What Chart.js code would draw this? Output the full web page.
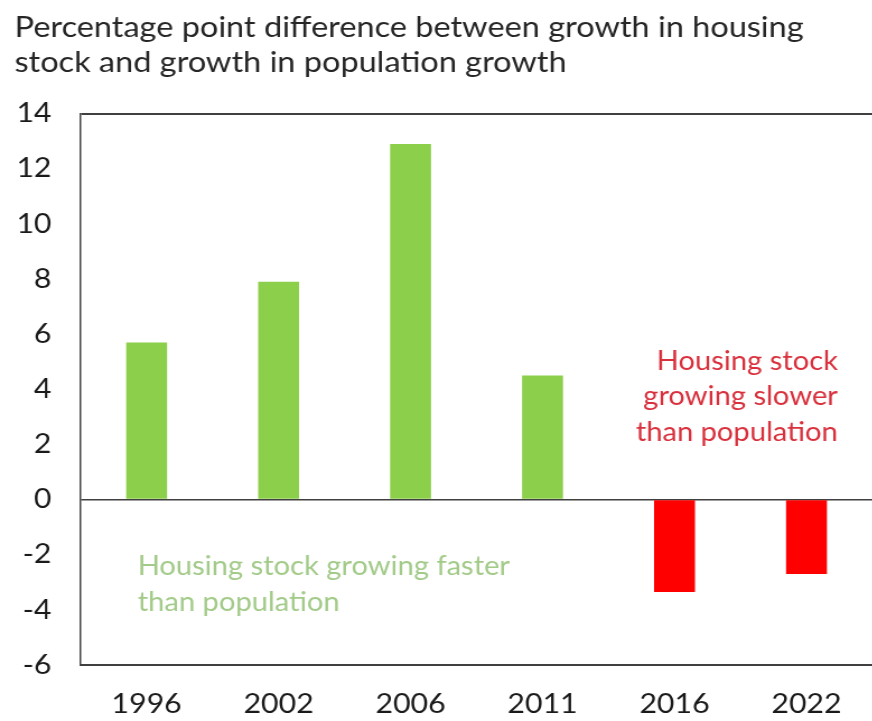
<!DOCTYPE html>
<html>
<head>
<meta charset="utf-8">
<script src="https://cdn.jsdelivr.net/npm/chart.js@4"></script>
<style>
  html, body { margin: 0; padding: 0; background: #fff; overflow: hidden; }
  /* the source picture is a little wider than tall text would give, so stretch */
  #wrap { width: 779px; height: 721px; position: relative; transform: scaleX(1.12); transform-origin: 0 0; }
</style>
</head>
<body>
<div id="wrap"><canvas id="chart"></canvas></div>
<script>
// data
const years = ["1996", "2002", "2006", "2011", "2016", "2022"];
const diffValues = [5.7, 7.9, 12.9, 4.5, -3.35, -2.7];
const yTicks = [14, 12, 10, 8, 6, 4, 2, 0, -2, -4, -6];
const titleLines = ["Percentage point difference between growth in housing",
                    "stock and growth in population growth"];
const fasterNote = ["Housing stock growing faster", "than population"];
const slowerNote = ["Housing stock", "growing slower", "than population"];

const green = "#8CCF4A";
const red = "#FF0000";
const axisGrey = "#404040";

// draws the two coloured notes inside the plot
const notesPlugin = {
  id: "notes",
  afterDatasetsDraw(chart) {
    const ctx = chart.ctx;
    const x = chart.scales.x, y = chart.scales.y;
    ctx.save();
    ctx.font = "26px Lato";
    ctx.textBaseline = "middle";

    ctx.fillStyle = "#A2CA88";
    ctx.textAlign = "left";
    const gx = x.getPixelForValue(0) - 8;
    ctx.fillText(fasterNote[0], gx, y.getPixelForValue(-2.44));
    ctx.fillText(fasterNote[1], gx, y.getPixelForValue(-3.75));

    ctx.fillStyle = "#D8303C";
    ctx.textAlign = "right";
    const rx = x.getPixelForValue(5) + 28;
    ctx.fillText(slowerNote[0], rx, y.getPixelForValue(4.99));
    ctx.fillText(slowerNote[1], rx, y.getPixelForValue(3.72));
    ctx.fillText(slowerNote[2], rx, y.getPixelForValue(2.42));
    ctx.restore();
  }
};

new Chart(document.getElementById("chart"), {
  type: "bar",
  data: {
    labels: years,
    datasets: [{
      data: diffValues,
      backgroundColor: diffValues.map(v => v < 0 ? red : green),
      categoryPercentage: 1,
      barPercentage: 0.31
    }]
  },
  options: {
    responsive: true,
    maintainAspectRatio: false,
    animation: false,
    layout: { padding: { left: 13, right: 0, top: 10, bottom: 0 } },
    plugins: {
      legend: { display: false },
      tooltip: { enabled: false },
      title: {
        display: true,
        text: titleLines,
        align: "start",
        color: "#262626",
        font: { family: "Lato", size: 29, weight: "normal", lineHeight: 1.2 },
        padding: { top: 0, bottom: 34 }
      }
    },
    scales: {
      x: {
        grid: { display: false },
        border: { display: true, color: axisGrey, width: 2 },
        ticks: {
          color: "#1a1a1a",
          font: { family: "Lato", size: 27 },
          padding: 15,
          maxRotation: 0
        },
        afterFit(scale) { scale.height = 56; }
      },
      y: {
        min: -6,
        max: 14,
        afterBuildTicks(scale) { scale.ticks = yTicks.map(v => ({ value: v })); },
        grid: {
          drawTicks: false,
          color: ctx => (ctx.tick.value === 0 || ctx.tick.value === 14) ? axisGrey : "rgba(0,0,0,0)",
          lineWidth: ctx => ctx.tick.value === 14 ? 2 : 1.5
        },
        border: { display: true, color: axisGrey, width: 1.5 },
        ticks: {
          color: "#1a1a1a",
          font: { family: "Lato", size: 27 },
          padding: 26
        },
        afterFit(scale) { scale.width = 59; }
      }
    }
  },
  plugins: [notesPlugin]
});
</script>
</body>
</html>
